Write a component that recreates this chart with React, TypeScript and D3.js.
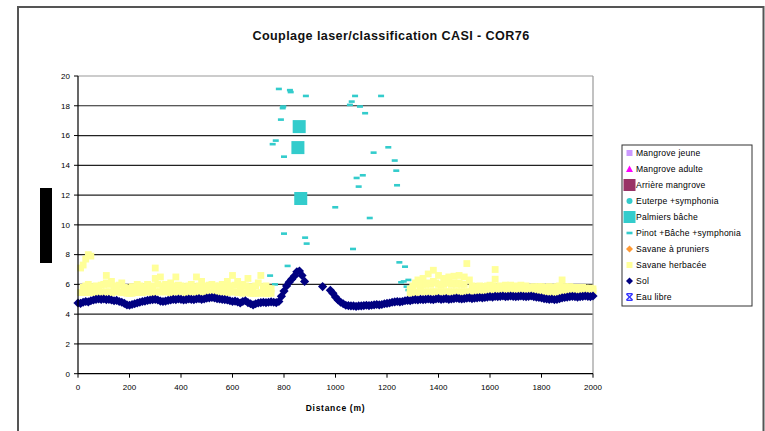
import React from "react";
import * as d3 from "d3";

// ---------- data ----------
const xTicks = [0, 200, 400, 600, 800, 1000, 1200, 1400, 1600, 1800, 2000];
const yTicks = [0, 2, 4, 6, 8, 10, 12, 14, 16, 18, 20];

// Sol: ground height, sampled every 10 m from 0 to 2000 (null = no point)
const solStep = 10;
const solValues: (number | null)[] = [
  4.75, 4.72, 4.8, 4.85, 4.82, 4.9, 4.95, 5.0, 5.02, 5.0,
  5.02, 4.98, 5.0, 4.95, 4.9, 4.92, 4.85, 4.8, 4.72, 4.62,
  4.6, 4.65, 4.7, 4.75, 4.8, 4.85, 4.88, 4.92, 4.95, 4.98,
  5.0, 4.95, 4.88, 4.85, 4.88, 4.92, 4.95, 5.0, 4.98, 5.02,
  5.0, 4.95, 4.98, 5.02, 5.0, 4.98, 5.02, 5.05, 5.0, 5.02,
  5.08, 5.1, 5.12, 5.1, 5.05, 5.02, 5.0, 4.98, 4.95, 4.9,
  4.85, 4.88, 4.82, 4.75, 4.85, 4.9, 4.78, 4.7, 4.62, 4.7,
  4.75, 4.78, 4.8, 4.78, 4.8, 4.82, 4.8, 4.78, 4.85, 5.2,
  5.55, 5.9, 6.15, 6.35, 6.55, 6.85, 6.9, 6.6, 6.2, null,
  null, null, null, null, null, 5.85, null, null, 5.6, 5.4,
  5.15, 4.95, 4.8, 4.7, 4.6, 4.58, 4.55, 4.55, 4.52, 4.55,
  4.55, 4.58, 4.6, 4.58, 4.6, 4.62, 4.65, 4.62, 4.65, 4.7,
  4.72, 4.75, 4.8, 4.82, 4.85, 4.82, 4.85, 4.9, 4.92, 4.9,
  4.95, 4.98, 4.95, 5.0, 4.98, 5.0, 5.02, 5.0, 4.98, 5.02,
  5.05, 5.0, 5.02, 5.05, 5.0, 5.02, 5.05, 5.08, 5.05, 5.02,
  5.05, 5.08, 5.1, 5.05, 5.08, 5.1, 5.12, 5.1, 5.12, 5.15,
  5.18, 5.15, 5.2, 5.18, 5.2, 5.22, 5.18, 5.2, 5.22, 5.2,
  5.18, 5.2, 5.22, 5.2, 5.18, 5.2, 5.22, 5.18, 5.15, 5.12,
  5.1, 5.05, 5.02, 5.0, 5.02, 4.98, 5.0, 5.05, 5.1, 5.12,
  5.15, 5.18, 5.2, 5.18, 5.15, 5.18, 5.2, 5.22, 5.2, 5.18,
  5.22,
];

// Savane herbacée: columns [distance, heights...]
const savaneHerbacee: number[][] = [
  [10, 5.45, 7.1], [20, 5.45, 5.8, 7.3], [30, 5.45, 5.9, 7.7], [40, 5.5, 6.0, 8.0],
  [50, 5.45, 5.85, 7.9], [60, 5.45, 5.8], [70, 5.5, 5.9], [80, 5.45, 5.85], [90, 5.5, 5.95], [100, 5.45, 6.0],
  [110, 5.5, 6.1, 6.6], [120, 5.5, 6.0], [130, 5.45, 6.2], [140, 5.5, 5.85], [150, 5.5, 5.9], [160, 5.5, 5.95], [170, 5.45, 6.1],
  [180, 5.45, 5.8], [190, 5.4, 5.75], [200, 5.4, 5.7], [210, 5.4, 5.85], [220, 5.45, 5.8], [230, 5.45, 6.0], [240, 5.45, 5.9], [250, 5.45, 5.8],
  [260, 5.5, 5.85], [270, 5.5, 6.0], [280, 5.5, 5.85], [290, 5.45, 5.9], [300, 5.5, 6.4, 7.1], [310, 5.5, 6.0], [320, 5.5, 6.5],
  [330, 5.5, 5.9], [340, 5.5, 6.0], [350, 5.5, 5.85], [360, 5.45, 6.1], [370, 5.5, 5.9], [380, 5.5, 6.5], [390, 5.5, 5.95], [400, 5.5, 5.9],
  [410, 5.5, 5.8], [420, 5.45, 5.85], [430, 5.5, 5.9], [440, 5.5, 6.0], [450, 5.5, 5.85], [460, 5.5, 6.5], [470, 5.5, 5.9], [480, 5.5, 6.2],
  [490, 5.5, 5.85], [500, 5.45, 5.9], [510, 5.5, 5.95], [520, 5.5, 6.0], [530, 5.5, 5.9], [540, 5.45, 5.85], [550, 5.5, 5.9], [560, 5.5, 6.0],
  [570, 5.5, 5.85], [580, 5.45, 6.2], [590, 5.5, 5.9], [600, 5.5, 6.6], [610, 5.5, 5.95], [620, 5.45, 6.2], [630, 5.45, 5.85], [640, 5.4, 6.0],
  [650, 5.45, 5.9], [660, 5.45, 6.4], [670, 5.4, 5.85], [680, 5.4, 5.8], [690, 5.4, 5.9], [700, 5.4, 6.1], [710, 5.45, 6.6],
  [720, 5.4, 5.85], [730, 5.4, 5.9], [740, 5.4, 5.75], [750, 5.4, 5.7],
  [1290, 5.4, 5.7], [1300, 5.45, 5.9], [1310, 5.45, 6.1], [1320, 5.5, 6.0, 6.3], [1330, 5.5, 5.9], [1340, 5.5, 6.0, 6.4],
  [1350, 5.5, 6.0], [1360, 5.5, 6.1, 6.7], [1370, 5.5, 6.0], [1380, 5.5, 6.2, 6.95], [1390, 5.5, 6.1], [1400, 5.5, 6.0, 6.6],
  [1410, 5.5, 5.95], [1420, 5.5, 6.0, 6.4], [1430, 5.5, 6.1], [1440, 5.5, 6.1, 6.5], [1450, 5.5, 6.0], [1460, 5.5, 6.1, 6.55],
  [1470, 5.5, 6.0], [1480, 5.5, 6.1, 6.6], [1490, 5.5, 6.0], [1500, 5.5, 6.0, 6.5], [1510, 5.5, 7.4],
  [1520, 5.5, 6.3], [1530, 5.5, 5.9], [1540, 5.5, 5.85], [1550, 5.5, 5.8], [1560, 5.5, 5.9], [1570, 5.5, 5.85],
  [1580, 5.5, 5.85], [1590, 5.5, 5.9], [1600, 5.5, 5.95], [1610, 5.55, 5.9], [1620, 5.55, 6.35, 7.0], [1630, 5.55, 5.85], [1640, 5.55, 5.9],
  [1650, 5.55, 5.85], [1660, 5.55, 5.95], [1670, 5.55, 5.9], [1680, 5.55, 5.95], [1690, 5.55, 5.85], [1700, 5.55, 5.9],
  [1710, 5.55, 5.85], [1720, 5.55, 5.95], [1730, 5.55, 5.85], [1740, 5.55, 5.9], [1750, 5.55, 5.8], [1760, 5.55, 5.8],
  [1770, 5.55, 5.85], [1780, 5.5, 5.8], [1790, 5.5, 5.85], [1800, 5.5, 5.85], [1810, 5.5, 5.8],
  [1820, 5.5, 5.8], [1830, 5.5, 5.85], [1840, 5.45, 5.8], [1850, 5.45, 5.8], [1860, 5.45, 5.85], [1870, 5.5, 5.9], [1880, 5.5, 6.3],
  [1890, 5.5, 5.85], [1900, 5.5, 5.8], [1910, 5.5, 5.85], [1920, 5.55, 5.8], [1930, 5.55, 5.8], [1940, 5.55, 5.75], [1950, 5.55, 5.8], [1960, 5.55, 5.8],
  [1970, 5.55, 5.75], [1980, 5.55, 5.7], [1990, 5.55, 5.75], [2000, 5.55, 5.7],
];

// Pinot +Bâche +symphonia
const pinotDist = [
  780, 823, 826, 885, 1076, 1063, 1056, 1177, 795, 797, 1095, 1115, 788,
  768, 756, 800, 1148, 1205, 1230, 1236, 1082, 1106, 1090, 1239, 999, 1133,
  800, 882, 888, 1068, 746, 765, 814, 1248, 1270, 1255, 1283, 1276, 1265, 1283,
];
const pinotVal = [
  19.13, 19.05, 18.92, 18.66, 18.66, 18.28, 18.06, 18.66, 17.84, 17.95, 17.95, 17.5, 17.07,
  15.66, 15.42, 14.58, 14.85, 15.21, 14.32, 13.64, 13.15, 13.33, 12.57, 12.66, 11.18, 10.46,
  9.41, 9.14, 8.74, 8.38, 6.59, 6.0, 7.24, 7.48, 7.19, 6.14, 6.3, 5.85, 6.2, 5.62,
];

// Palmiers bâche
const palmiersDist = [859, 854, 865];
const palmiersVal = [16.6, 15.19, 11.77];

const legendNames = [
  "Mangrove jeune",
  "Mangrove adulte",
  "Arrière mangrove",
  "Euterpe +symphonia",
  "Palmiers bâche",
  "Pinot +Bâche +symphonia",
  "Savane à pruniers",
  "Savane herbacée",
  "Sol",
  "Eau libre",
];
const legendShapes = ["sq", "tri", "bigsq", "circle", "bigsq", "dash", "diamond", "sq", "diamond", "x"];
const legendColors = [
  "#CC99FF", "#FF00FF", "#993366", "#33CCCC", "#33CCCC",
  "#33CCCC", "#FF9933", "#FFFF99", "#000080", "#3333FF",
];

// ---------- layout ----------
const W = 765;
const H = 431;
const PL = 78, PR = 593, PT = 76, PB = 373.7;
const FONT = "'Liberation Sans', Arial, sans-serif";

function Marker({ shape, color, cx, cy }: { shape: string; color: string; cx: number; cy: number }) {
  switch (shape) {
    case "sq":
      return <rect x={cx - 3} y={cy - 3} width={6} height={6} fill={color} />;
    case "bigsq":
      return <rect x={cx - 6} y={cy - 6} width={12} height={12} fill={color} />;
    case "tri":
      return <polygon points={`${cx},${cy - 3.5} ${cx + 3.5},${cy + 3} ${cx - 3.5},${cy + 3}`} fill={color} />;
    case "circle":
      return <circle cx={cx} cy={cy} r={3} fill={color} />;
    case "dash":
      return <rect x={cx - 3} y={cy - 1.3} width={6} height={2.6} fill={color} />;
    case "diamond":
      return <polygon points={`${cx},${cy - 3.5} ${cx + 3.5},${cy} ${cx},${cy + 3.5} ${cx - 3.5},${cy}`} fill={color} />;
    case "x":
      return (
        <g stroke={color} strokeWidth={1.4}>
          <line x1={cx - 3} y1={cy - 3} x2={cx + 3} y2={cy + 3} />
          <line x1={cx + 3} y1={cy - 3} x2={cx - 3} y2={cy + 3} />
          <line x1={cx - 3} y1={cy - 3.3} x2={cx + 3} y2={cy - 3.3} />
          <line x1={cx - 3} y1={cy + 3.3} x2={cx + 3} y2={cy + 3.3} />
        </g>
      );
    default:
      return null;
  }
}

export default function App() {
  const x = d3.scaleLinear().domain([0, 2000]).range([PL, PR]);
  const y = d3.scaleLinear().domain([0, 20]).range([PB, PT]);

  const savanePts: [number, number][] = [];
  savaneHerbacee.forEach((col) => {
    const d = col[0];
    col.slice(1).forEach((v) => savanePts.push([d, v]));
  });

  const solPts: [number, number][] = [];
  solValues.forEach((v, i) => {
    if (v !== null) solPts.push([i * solStep, v]);
  });

  const diamond = (cx: number, cy: number, r: number) =>
    `${cx},${cy - r} ${cx + r},${cy} ${cx},${cy + r} ${cx - r},${cy}`;

  return (
    <svg
      width={W}
      height={H}
      style={{ position: "absolute", left: 0, top: 0, background: "#fff" }}
      fontFamily={FONT}
    >
      <rect x={0} y={0} width={W} height={H} fill="#fff" />
      {/* outer frame */}
      <rect x={18} y={7} width={745.5} height={H + 20} fill="none" stroke="#555" strokeWidth={2} />

      {/* title */}
      <text x={391} y={40} textAnchor="middle" fontSize={12.6} fontWeight="bold" fill="#111" letterSpacing={0.4}>
        Couplage laser/classification CASI - COR76
      </text>

      {/* black bar (hidden axis title) */}
      <rect x={40} y={188} width={12} height={75} fill="#000" />

      {/* gridlines */}
      {yTicks.slice(1, -1).map((t) => (
        <line key={t} x1={PL} x2={PR} y1={y(t)} y2={y(t)} stroke="#222" strokeWidth={1.2} />
      ))}
      {/* plot border (top/right) */}
      <line x1={PL} x2={PR} y1={PT} y2={PT} stroke="#999" strokeWidth={1.2} />
      <line x1={PR} x2={PR} y1={PT} y2={PB} stroke="#999" strokeWidth={1.2} />

      {/* Pinot +Bâche +symphonia */}
      {pinotDist.map((d, i) => (
        <rect key={"p" + i} x={x(d) - 3} y={y(pinotVal[i]) - 1.3} width={6} height={2.6} fill="#33CCCC" />
      ))}
      {/* Palmiers bâche */}
      {palmiersDist.map((d, i) => (
        <rect key={"pb" + i} x={x(d) - 6.5} y={y(palmiersVal[i]) - 6.5} width={13} height={13} fill="#33CCCC" />
      ))}
      {/* Savane herbacée */}
      {savanePts.map(([d, v], i) => (
        <rect key={"s" + i} x={x(d) - 3.4} y={y(v) - 3.4} width={6.8} height={6.8} fill="#FFFF99" />
      ))}
      {/* Sol */}
      {solPts.map(([d, v], i) => (
        <polygon key={"sol" + i} points={diamond(x(d), y(v), 4.6)} fill="#000080" />
      ))}

      {/* axes */}
      <line x1={PL} x2={PL} y1={PT} y2={PB} stroke="#000" strokeWidth={1.2} />
      <line x1={PL} x2={PR} y1={PB} y2={PB} stroke="#000" strokeWidth={1.2} />
      {yTicks.map((t) => (
        <g key={"yt" + t}>
          <line x1={PL - 4} x2={PL} y1={y(t)} y2={y(t)} stroke="#000" strokeWidth={1} />
          <text x={70} y={y(t) + 2.8} textAnchor="end" fontSize={8} fill="#000">
            {t}
          </text>
        </g>
      ))}
      {xTicks.map((t) => (
        <g key={"xt" + t}>
          <line x1={x(t)} x2={x(t)} y1={PB} y2={PB + 4} stroke="#000" strokeWidth={1} />
          <text x={x(t)} y={390} textAnchor="middle" fontSize={8} fill="#000">
            {t}
          </text>
        </g>
      ))}
      <text x={(PL + PR) / 2} y={411} textAnchor="middle" fontSize={8.5} fontWeight="bold" fill="#000" letterSpacing={0.7}>
        Distance (m)
      </text>

      {/* legend */}
      <rect x={622} y={145} width={130} height={161} fill="#fff" stroke="#333" strokeWidth={1} />
      {legendNames.map((name, i) => {
        const cy = 153 + i * 16;
        return (
          <g key={"lg" + i}>
            <Marker shape={legendShapes[i]} color={legendColors[i]} cx={629.5} cy={cy} />
            <text x={636} y={cy + 3} fontSize={8.6} fill="#000" letterSpacing={0.2}>
              {name}
            </text>
          </g>
        );
      })}
    </svg>
  );
}
